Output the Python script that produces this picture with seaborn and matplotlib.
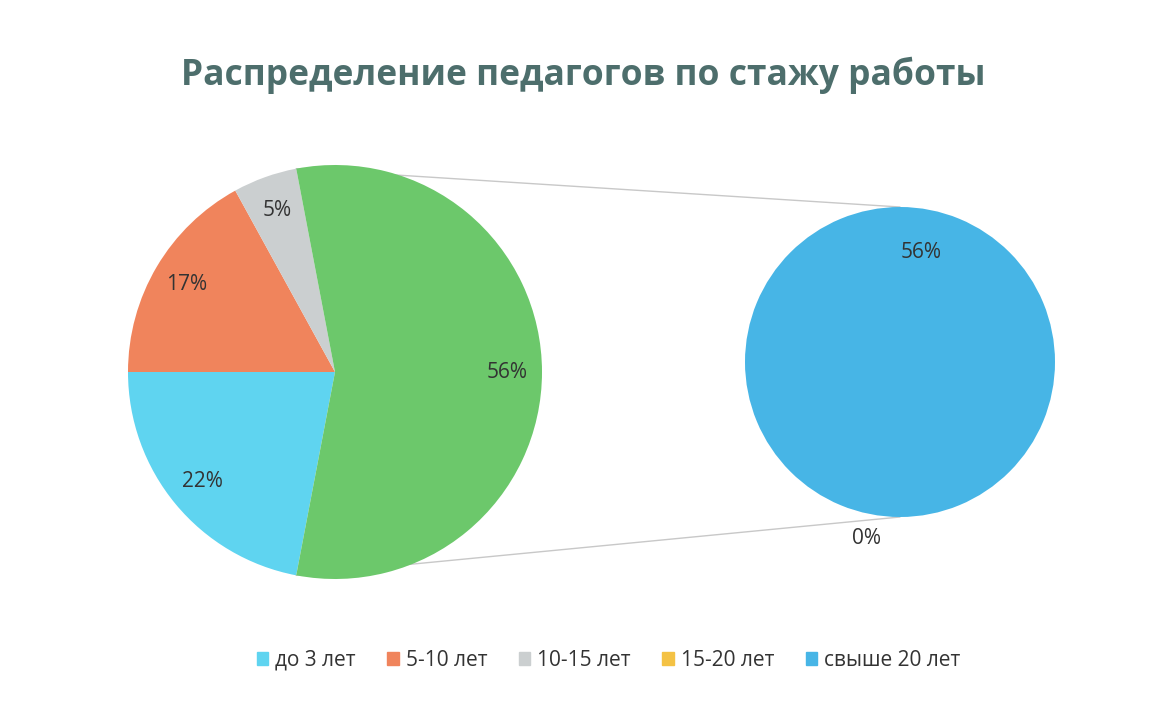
import numpy as np
import matplotlib.pyplot as plt
import matplotlib.patches as mpatches
import seaborn as sns

# data
categories = ['до 3 лет', '5-10 лет', '10-15 лет', '15-20 лет', 'свыше 20 лет']
shares = [22, 17, 5, 0, 56]
colors = ['#5fd4f0', '#f0845c', '#cbcfd0', '#f4c244', '#47b5e6']
other_color = '#6cc86b'
title = 'Распределение педагогов по стажу работы'

sns.set_theme(style='white')
plt.rcParams['font.family'] = ['Open Sans', 'DejaVu Sans']

# main pie: first three categories + "other" (the rest)
main_vals = shares[:3] + [sum(shares[3:])]
main_cols = colors[:3] + [other_color]
# second pie: the rest
sub_vals = shares[3:]
sub_cols = colors[3:]

fig = plt.figure(figsize=(11.66, 7.01), dpi=100)
ax = fig.add_axes([0, 0, 1, 1])

c1, r1 = (335, 329), 207
c2, r2 = (900, 339), 155

start1 = 180 + main_vals[0] / sum(main_vals) * 360
w1, _ = ax.pie(main_vals, colors=main_cols, startangle=start1, counterclock=False,
               center=c1, radius=r1, wedgeprops=dict(linewidth=0), frame=True)
w2, _ = ax.pie(sub_vals, colors=sub_cols, startangle=start1, counterclock=False,
               center=c2, radius=r2, wedgeprops=dict(linewidth=0), frame=True)
ax.set_xlim(0, 1166)
ax.set_ylim(0, 701)
ax.set_aspect('equal')
ax.axis('off')

txt_col = '#333333'
for w, v in zip(w1, main_vals):
    a = np.deg2rad((w.theta1 + w.theta2) / 2)
    ax.text(c1[0] + 0.83 * r1 * np.cos(a), c1[1] + 0.83 * r1 * np.sin(a), f'{v}%',
            ha='center', va='center', fontsize=15, color=txt_col)
for w, v in zip(w2, sub_vals):
    a = np.deg2rad((w.theta1 + w.theta2) / 2)
    d = 0.72 if v > 0 else 1.16
    ax.text(c2[0] + d * r2 * np.cos(a), c2[1] + d * r2 * np.sin(a), f'{v}%',
            ha='center', va='center', fontsize=15, color=txt_col)

# connector lines from the "other" wedge to the second pie
g = w1[-1]
for ang, ang2 in [(g.theta2, 90), (g.theta1, -90)]:
    a, b = np.deg2rad(ang), np.deg2rad(ang2)
    ax.plot([c1[0] + r1 * np.cos(a), c2[0] + r2 * np.cos(b)],
            [c1[1] + r1 * np.sin(a), c2[1] + r2 * np.sin(b)],
            color='#c8c8c8', lw=1, zorder=0)

fig.text(0.5, 0.893, title, ha='center', va='center', fontsize=25.5,
         fontweight='bold', color='#4d6e6c')

handles = [mpatches.Patch(color=c, label=l) for c, l in zip(colors, categories)]
fig.legend(handles=handles, loc='center', bbox_to_anchor=(0.522, 0.058), ncol=5,
           frameon=False, fontsize=15, handlelength=0.55, handleheight=0.55,
           handletextpad=0.35, columnspacing=1.5, labelcolor='#333333')

fig.savefig('out.png', dpi=100, facecolor='white')
